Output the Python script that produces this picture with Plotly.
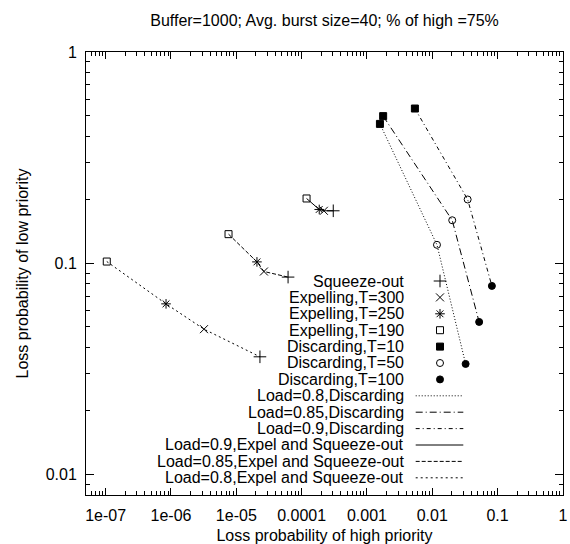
import math
import plotly.graph_objects as go

# ---------------- data ----------------
title_text = "Buffer=1000; Avg. burst size=40; % of high =75%"
x_title = "Loss probability of high priority"
y_title = "Loss probability of low priority"

# Discarding policy: points ordered T=10, T=50, T=100
disc_load08_x = [0.00158, 0.0118, 0.0324]
disc_load08_y = [0.4575, 0.1224, 0.0334]
disc_load085_x = [0.00177, 0.0202, 0.0522]
disc_load085_y = [0.498, 0.160, 0.0528]
disc_load09_x = [0.00542, 0.0348, 0.0818]
disc_load09_y = [0.541, 0.2007, 0.0782]

# Expel and Squeeze-out: points ordered T=190, T=250, T=300, Squeeze-out
exp_load08_x = [1.04e-7, 8.4e-7, 3.2e-6, 2.3e-5]
exp_load08_y = [0.102, 0.0643, 0.0488, 0.0361]
exp_load085_x = [7.6e-6, 2.07e-5, 2.65e-5, 6.2e-5]
exp_load085_y = [0.1375, 0.1016, 0.0915, 0.0861]
exp_load09_x = [1.19e-4, 1.86e-4, 2.19e-4, 3.05e-4]
exp_load09_y = [0.2029, 0.180, 0.1774, 0.1774]

x_tickvals = [1e-7, 1e-6, 1e-5, 1e-4, 1e-3, 1e-2, 1e-1, 1.0]
x_ticktext = ["1e-07", "1e-06", "1e-05", "0.0001", "0.001", "0.01", "0.1", "1"]
y_tickvals = [0.01, 0.1, 1]
y_ticktext = ["0.01", "0.1", "1"]
x_range = [5e-8, 1.003]
y_range = [0.008, 1.002]

FONT = "Liberation Sans, Arial, Helvetica, sans-serif"
FS = 16

fig = go.Figure()

line_styles = {
    "Load=0.8,Discarding": "1px,2px",
    "Load=0.85,Discarding": "7px,3px,1px,3px",
    "Load=0.9,Discarding": "4px,3px,1px,3px",
    "Load=0.9,Expel and Squeeze-out": "solid",
    "Load=0.85,Expel and Squeeze-out": "4px,2px",
    "Load=0.8,Expel and Squeeze-out": "2px,3px",
}

series_lines = [
    ("Load=0.8,Discarding", disc_load08_x, disc_load08_y),
    ("Load=0.85,Discarding", disc_load085_x, disc_load085_y),
    ("Load=0.9,Discarding", disc_load09_x, disc_load09_y),
    ("Load=0.9,Expel and Squeeze-out", exp_load09_x, exp_load09_y),
    ("Load=0.85,Expel and Squeeze-out", exp_load085_x, exp_load085_y),
    ("Load=0.8,Expel and Squeeze-out", exp_load08_x, exp_load08_y),
]
for name, xs, ys in series_lines:
    fig.add_trace(go.Scatter(x=xs, y=ys, mode="lines", showlegend=False,
                             line=dict(color="black", width=1, dash=line_styles[name])))

exp_sets = [(exp_load08_x, exp_load08_y), (exp_load085_x, exp_load085_y), (exp_load09_x, exp_load09_y)]
disc_sets = [(disc_load08_x, disc_load08_y), (disc_load085_x, disc_load085_y), (disc_load09_x, disc_load09_y)]

marker_defs = [
    ("Squeeze-out", "cross-thin-open", 9, exp_sets, 3),
    ("Expelling,T=300", "x-thin-open", 8, exp_sets, 2),
    ("Expelling,T=250", "asterisk-open", 8, exp_sets, 1),
    ("Expelling,T=190", "square-open", 7, exp_sets, 0),
    ("Discarding,T=10", "square", 7, disc_sets, 0),
    ("Discarding,T=50", "circle-open", 7, disc_sets, 1),
    ("Discarding,T=100", "circle", 7, disc_sets, 2),
]
for name, sym, size, sets, idx in marker_defs:
    fig.add_trace(go.Scatter(
        x=[s[0][idx] for s in sets], y=[s[1][idx] for s in sets],
        mode="markers", showlegend=False,
        marker=dict(symbol=sym, size=size, color="black",
                    line=dict(color="black", width=1))))

# ---------------- custom key (gnuplot style: text right, sample left) ----------------
PLOT_L, PLOT_R, PLOT_T, PLOT_B = 86, 563, 52, 495


def fx(px):
    return (px - PLOT_L) / (PLOT_R - PLOT_L)


def fy(py):
    return (PLOT_B - py) / (PLOT_B - PLOT_T)


key_text_x = fx(405.7)
key_sample_x0, key_sample_x1 = fx(415.7), fx(463.3)
key_sample_xc = fx(440)
key_top = fy(281)
key_step = fy(281) - fy(297.4)

entries = [(n, "marker", (sym, size)) for n, sym, size, _, _ in marker_defs] + \
          [(n, "line", line_styles[n]) for n, _, _ in series_lines]

for i, (name, kind, style) in enumerate(entries):
    yk = key_top - i * key_step
    fig.add_annotation(x=key_text_x, y=yk, xref="paper", yref="paper", text=name,
                       showarrow=False, xanchor="right", yanchor="middle",
                       font=dict(family=FONT, size=FS, color="black"))
    if kind == "marker":
        sym, size = style
        fig.add_trace(go.Scatter(x=[key_sample_xc], y=[yk], xaxis="x2", yaxis="y2",
                                 mode="markers", showlegend=False,
                                 marker=dict(symbol=sym, size=size, color="black",
                                             line=dict(color="black", width=1))))
    else:
        fig.add_trace(go.Scatter(x=[key_sample_x0, key_sample_x1], y=[yk, yk],
                                 xaxis="x2", yaxis="y2", mode="lines", showlegend=False,
                                 line=dict(color="black", width=1, dash=style)))


def minor_vals(lo_exp, hi_exp, lo, hi):
    vals = []
    for e in range(lo_exp, hi_exp + 1):
        for k in range(2, 10):
            v = k * 10 ** e
            if lo < v < hi:
                vals.append(v)
    return vals


axis_common = dict(type="log", showline=True, linecolor="black", linewidth=1,
                   mirror="allticks", ticks="inside", tickcolor="black", tickwidth=1,
                   showgrid=False, zeroline=False, tickmode="array",
                   ticklabeloverflow="allow", automargin=False,
                   tickfont=dict(family=FONT, size=FS, color="black"))

fig.update_layout(
    width=570, height=544,
    margin=dict(l=PLOT_L, r=570 - PLOT_R, t=PLOT_T, b=544 - PLOT_B),
    paper_bgcolor="white", plot_bgcolor="white",
    font=dict(family=FONT, size=FS, color="black"),
    title=dict(text=title_text, x=0.5, xref="paper", xanchor="center",
               y=1 - 20 / 544, yanchor="middle",
               font=dict(family=FONT, size=FS, color="black")),
    xaxis=dict(axis_common, range=[math.log10(x_range[0]), math.log10(x_range[1])],
               tickvals=x_tickvals, ticktext=x_ticktext, ticklen=7,
               ticklabelstandoff=6,
               minor=dict(tickmode="array", tickvals=minor_vals(-8, -1, *x_range),
                          ticks="inside", ticklen=4, tickcolor="black", showgrid=False),
               title=dict(text=x_title, standoff=7,
                          font=dict(family=FONT, size=FS, color="black"))),
    yaxis=dict(axis_common, range=[math.log10(y_range[0]), math.log10(y_range[1])],
               tickvals=y_tickvals, ticktext=y_ticktext, ticklen=8,
               ticklabelstandoff=5,
               minor=dict(tickmode="array", tickvals=minor_vals(-3, -1, *y_range),
                          ticks="inside", ticklen=4, tickcolor="black", showgrid=False),
               title=dict(text=y_title, standoff=13,
                          font=dict(family=FONT, size=FS, color="black"))),
    xaxis2=dict(overlaying="x", range=[0, 1], visible=False, fixedrange=True),
    yaxis2=dict(overlaying="y", range=[0, 1], visible=False, fixedrange=True),
    showlegend=False,
)

fig.write_html("out.html", config={"displayModeBar": False},
               post_script="document.body.style.margin='0';document.body.style.padding='0';")
